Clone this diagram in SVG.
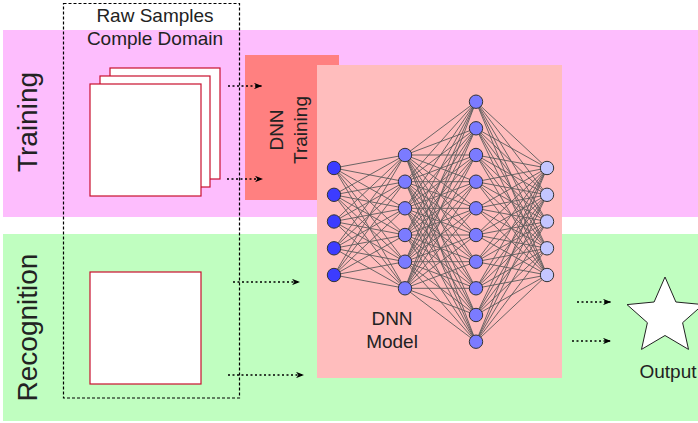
<svg xmlns="http://www.w3.org/2000/svg" width="698" height="423" viewBox="0 0 698 423">
<defs>
<style>
.t{font-family:"Liberation Sans",Arial,sans-serif;fill:#222;}
.sq{fill:#fff;stroke:#c8102e;stroke-width:1.2;}
.edge{fill:none;stroke:#5a5a5a;stroke-width:0.9;}
.n1{fill:#3c3cff;stroke:#333;stroke-width:1;}
.n2{fill:#7b7bff;stroke:#333;stroke-width:1;}
.n4{fill:#c4c6ff;stroke:#333;stroke-width:1;}
.arr{fill:none;stroke:#000;stroke-width:1.3;stroke-dasharray:2 2.5;marker-end:url(#ah);}
</style>
<marker id="ah" viewBox="0 0 10 8" refX="10" refY="4" markerWidth="8" markerHeight="6.4" markerUnits="userSpaceOnUse" orient="auto">
<path d="M0 0L10 4L0 8L3 4Z" fill="#000"/>
</marker>
</defs>
<rect width="698" height="423" fill="#fff"/>
<g id="training-band">
<rect x="3" y="30" width="695" height="187" fill="#fdbdfd"/>
<text class="t" font-size="28" text-anchor="middle" transform="translate(37,122) rotate(-90)">Training</text>
</g>
<g id="recognition-band">
<rect x="3" y="234" width="695" height="187" fill="#c0fec0"/>
<text class="t" font-size="28" text-anchor="middle" transform="translate(37,327.5) rotate(-90)">Recognition</text>
</g>
<g id="raw-samples">
<rect x="63.5" y="3.5" width="176" height="394.5" fill="none" stroke="#000" stroke-width="1.2" stroke-dasharray="3 2"/>
<text class="t" font-size="19" x="155" y="22" text-anchor="middle">Raw Samples</text>
<text class="t" font-size="19" x="155" y="45" text-anchor="middle">Comple Domain</text>
</g>
<g id="training-samples">
<rect class="sq" x="110" y="68" width="110" height="111"/>
<rect class="sq" x="100" y="76" width="110" height="111"/>
<rect class="sq" x="90" y="84" width="111" height="112"/>
</g>
<g id="recognition-sample">
<rect class="sq" x="90" y="272" width="111" height="112"/>
</g>
<g id="dnn-training">
<rect x="245" y="55" width="94" height="145" fill="#ff8080"/>
<text class="t" font-size="19" text-anchor="middle" transform="translate(283,130) rotate(-90)">DNN</text>
<text class="t" font-size="19" text-anchor="middle" transform="translate(307,130) rotate(-90)">Training</text>
</g>
<g id="dnn-model">
<rect x="317" y="65" width="245" height="313" fill="#ffbdbd"/>
<path class="edge" d="M334 168L405 155M334 168L405 181.7M334 168L405 208.3M334 168L405 235M334 168L405 261.7M334 168L405 288.3
M334 194.8L405 155M334 194.8L405 181.7M334 194.8L405 208.3M334 194.8L405 235M334 194.8L405 261.7M334 194.8L405 288.3
M334 221.5L405 155M334 221.5L405 181.7M334 221.5L405 208.3M334 221.5L405 235M334 221.5L405 261.7M334 221.5L405 288.3
M334 248.3L405 155M334 248.3L405 181.7M334 248.3L405 208.3M334 248.3L405 235M334 248.3L405 261.7M334 248.3L405 288.3
M334 275L405 155M334 275L405 181.7M334 275L405 208.3M334 275L405 235M334 275L405 261.7M334 275L405 288.3"/>
<path class="edge" d="M405 155L476 101.7M405 155L476 128.3M405 155L476 155M405 155L476 181.7M405 155L476 208.3M405 155L476 235M405 155L476 261.7M405 155L476 288.3M405 155L476 315M405 155L476 341.7
M405 181.7L476 101.7M405 181.7L476 128.3M405 181.7L476 155M405 181.7L476 181.7M405 181.7L476 208.3M405 181.7L476 235M405 181.7L476 261.7M405 181.7L476 288.3M405 181.7L476 315M405 181.7L476 341.7
M405 208.3L476 101.7M405 208.3L476 128.3M405 208.3L476 155M405 208.3L476 181.7M405 208.3L476 208.3M405 208.3L476 235M405 208.3L476 261.7M405 208.3L476 288.3M405 208.3L476 315M405 208.3L476 341.7
M405 235L476 101.7M405 235L476 128.3M405 235L476 155M405 235L476 181.7M405 235L476 208.3M405 235L476 235M405 235L476 261.7M405 235L476 288.3M405 235L476 315M405 235L476 341.7
M405 261.7L476 101.7M405 261.7L476 128.3M405 261.7L476 155M405 261.7L476 181.7M405 261.7L476 208.3M405 261.7L476 235M405 261.7L476 261.7M405 261.7L476 288.3M405 261.7L476 315M405 261.7L476 341.7
M405 288.3L476 101.7M405 288.3L476 128.3M405 288.3L476 155M405 288.3L476 181.7M405 288.3L476 208.3M405 288.3L476 235M405 288.3L476 261.7M405 288.3L476 288.3M405 288.3L476 315M405 288.3L476 341.7"/>
<path class="edge" d="M476 101.7L547 168M476 101.7L547 194.8M476 101.7L547 221.5M476 101.7L547 248.3M476 101.7L547 275
M476 128.3L547 168M476 128.3L547 194.8M476 128.3L547 221.5M476 128.3L547 248.3M476 128.3L547 275
M476 155L547 168M476 155L547 194.8M476 155L547 221.5M476 155L547 248.3M476 155L547 275
M476 181.7L547 168M476 181.7L547 194.8M476 181.7L547 221.5M476 181.7L547 248.3M476 181.7L547 275
M476 208.3L547 168M476 208.3L547 194.8M476 208.3L547 221.5M476 208.3L547 248.3M476 208.3L547 275
M476 235L547 168M476 235L547 194.8M476 235L547 221.5M476 235L547 248.3M476 235L547 275
M476 261.7L547 168M476 261.7L547 194.8M476 261.7L547 221.5M476 261.7L547 248.3M476 261.7L547 275
M476 288.3L547 168M476 288.3L547 194.8M476 288.3L547 221.5M476 288.3L547 248.3M476 288.3L547 275
M476 315L547 168M476 315L547 194.8M476 315L547 221.5M476 315L547 248.3M476 315L547 275
M476 341.7L547 168M476 341.7L547 194.8M476 341.7L547 221.5M476 341.7L547 248.3M476 341.7L547 275"/>
<g class="n1">
<circle cx="334" cy="168" r="6.7"/><circle cx="334" cy="194.8" r="6.7"/><circle cx="334" cy="221.5" r="6.7"/><circle cx="334" cy="248.3" r="6.7"/><circle cx="334" cy="275" r="6.7"/>
</g>
<g class="n2">
<circle cx="405" cy="155" r="6.7"/><circle cx="405" cy="181.7" r="6.7"/><circle cx="405" cy="208.3" r="6.7"/><circle cx="405" cy="235" r="6.7"/><circle cx="405" cy="261.7" r="6.7"/><circle cx="405" cy="288.3" r="6.7"/>
<circle cx="476" cy="101.7" r="6.7"/><circle cx="476" cy="128.3" r="6.7"/><circle cx="476" cy="155" r="6.7"/><circle cx="476" cy="181.7" r="6.7"/><circle cx="476" cy="208.3" r="6.7"/><circle cx="476" cy="235" r="6.7"/><circle cx="476" cy="261.7" r="6.7"/><circle cx="476" cy="288.3" r="6.7"/><circle cx="476" cy="315" r="6.7"/><circle cx="476" cy="341.7" r="6.7"/>
</g>
<g class="n4">
<circle cx="547" cy="168" r="6.7"/><circle cx="547" cy="194.8" r="6.7"/><circle cx="547" cy="221.5" r="6.7"/><circle cx="547" cy="248.3" r="6.7"/><circle cx="547" cy="275" r="6.7"/>
</g>
<text class="t" font-size="19" x="392" y="325" text-anchor="middle">DNN</text>
<text class="t" font-size="19" x="392" y="348" text-anchor="middle">Model</text>
</g>
<g id="output">
<polygon points="665,277 675.9,302 703,304.6 682.6,322.7 688.5,349.4 665,335.5 641.5,349.4 647.4,322.7 627,304.6 654.1,302" fill="#fff" stroke="#222" stroke-width="1"/>
<text class="t" font-size="19" x="668" y="378" text-anchor="middle">Output</text>
</g>
<g id="connectors">
<path class="arr" d="M228 86H262"/>
<path class="arr" d="M227 179H263"/>
<path class="arr" d="M233 282H300"/>
<path class="arr" d="M228 375H304"/>
<path class="arr" d="M577 302H611"/>
<path class="arr" d="M572 341H611"/>
</g>
</svg>
